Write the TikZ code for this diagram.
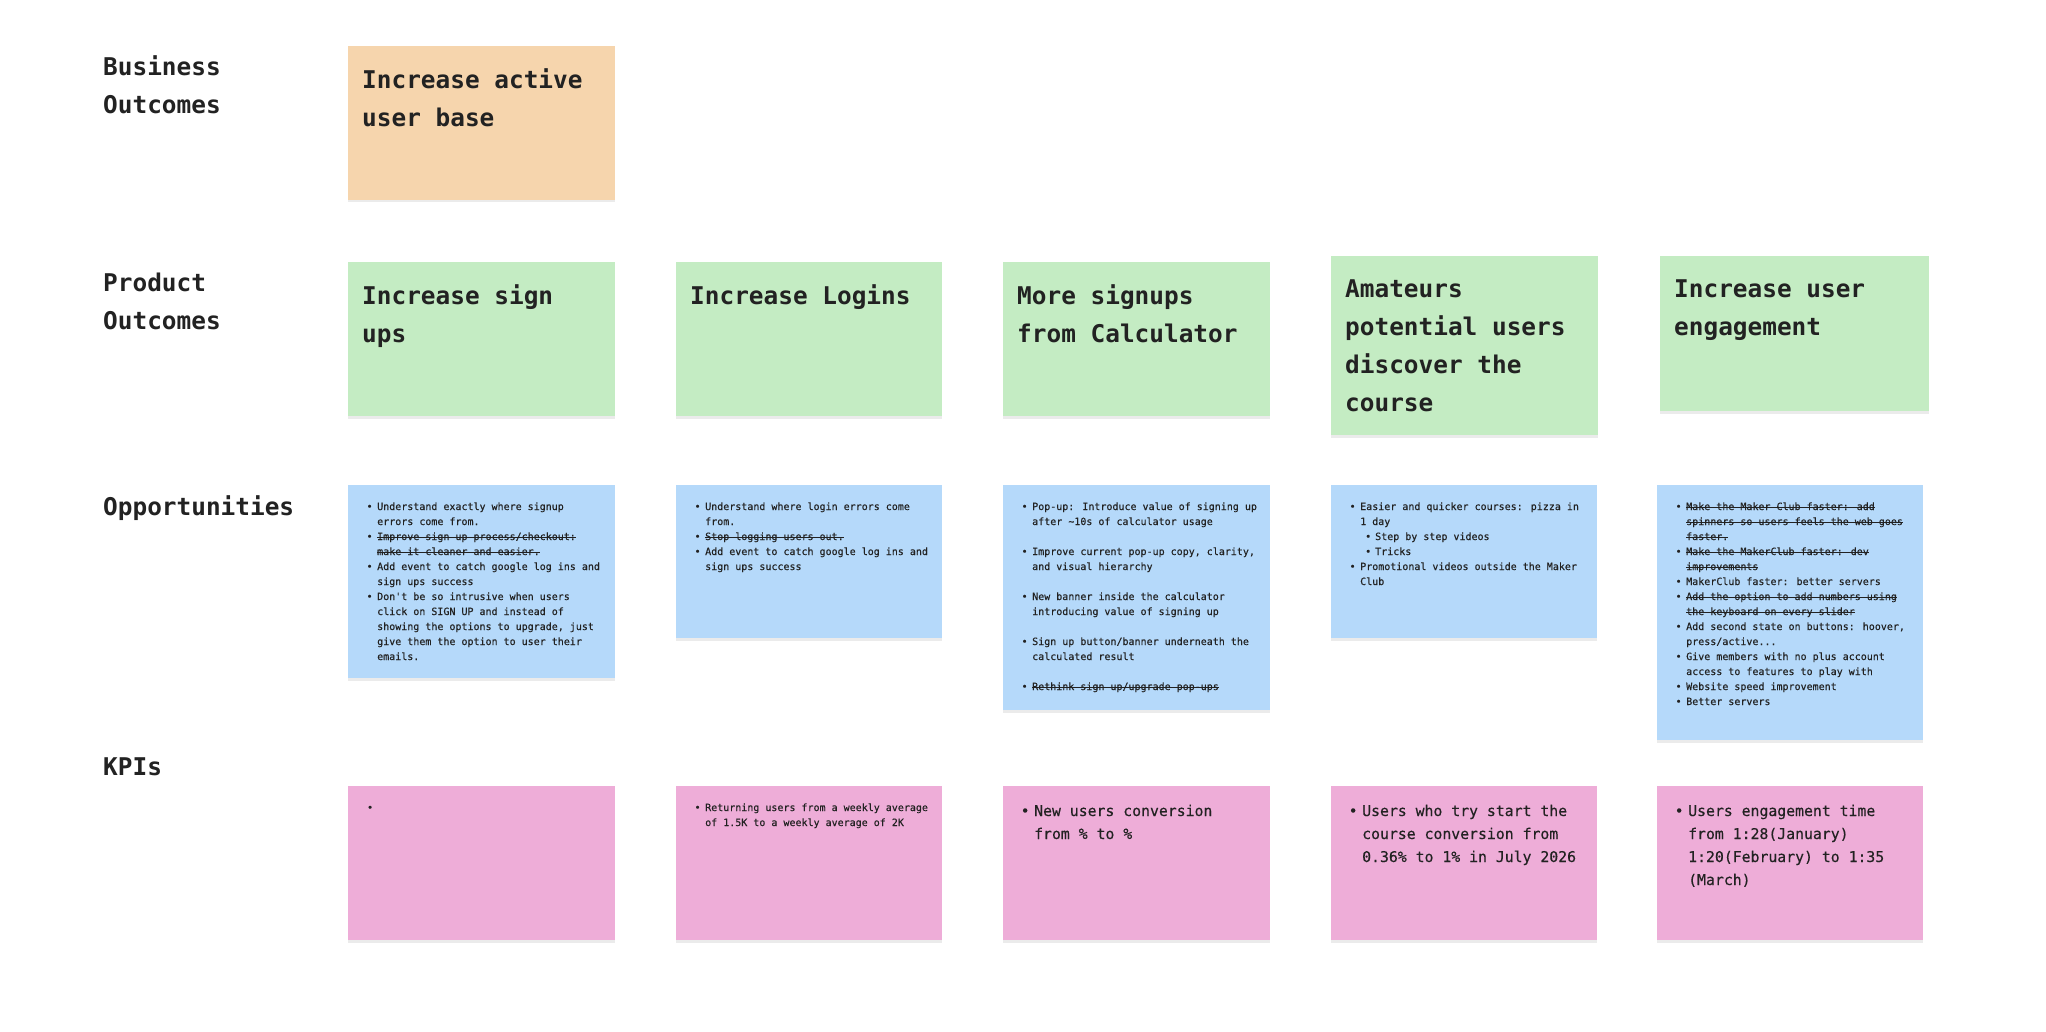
\documentclass[tikz,border=0pt]{standalone}
\usepackage{fontspec}
\setmonofont{DejaVu Sans Mono}
\newfontfamily\medmono[FakeBold=0.35]{DejaVu Sans Mono}
\usetikzlibrary{shadows}
\definecolor{ink}{HTML}{222222}
\definecolor{orangenote}{HTML}{F6D5AD}
\definecolor{greennote}{HTML}{C4ECC3}
\definecolor{bluenote}{HTML}{B5D9FA}
\definecolor{pinknote}{HTML}{EEADD8}
\newsavebox\strikebox
\newcommand\sout[1]{\sbox\strikebox{#1}\rlap{\rule[0.27em]{\wd\strikebox}{0.8pt}}\usebox\strikebox}
\newcommand\bigt{\ttfamily\bfseries\fontsize{24.4}{38}\selectfont}
\newcommand\smallt{\medmono\fontsize{10}{15}\selectfont}
\newcommand\midt{\medmono\fontsize{14.8}{23}\selectfont}
\newcommand\Lin[1]{\hbox{#1}}
\newcommand\Bul[1]{\hbox{\llap{\textbullet\kern4.6pt}#1}}
\newcommand\Sub[1]{\hbox{\kern15pt\llap{\textbullet\kern4pt}#1}}
\newcommand\Lines[1]{\vtop{#1}}
\tikzset{
  note/.style={rectangle, anchor=north west, inner sep=0pt, outer sep=0pt, draw=none,
    fill=#1, drop shadow={shadow xshift=0pt, shadow yshift=-2.5pt, opacity=.08, fill=black}},
  label/.style={anchor=base west, inner sep=0pt, text=ink, font=\bigt},
  title/.style={anchor=base west, inner sep=0pt, text=ink, font=\bigt},
  small/.style={anchor=base west, inner sep=0pt, text=ink, font=\smallt},
  mid/.style={anchor=base west, inner sep=0pt, text=ink, font=\midt},
}
\begin{document}
\begin{tikzpicture}[x=1pt,y=-1pt]
\fill[white] (0,0) rectangle (2046,1032);
\useasboundingbox (0,0) rectangle (2046,1032);

% row labels
\node[label] (l1) at (103,76) {\Lines{\Lin{Business}\Lin{Outcomes}}};
\node[label] (l2) at (103,292) {\Lines{\Lin{Product}\Lin{Outcomes}}};
\node[label] (l3) at (103,515) {\Lines{\Lin{Opportunities}}};
\node[label] (l4) at (103,775) {\Lines{\Lin{KPIs}}};

% business outcome
\node[note=orangenote, minimum width=267, minimum height=154] (b1) at (348,46) {};
\node[title] (tb1) at ([shift={(14,43)}]b1.north west) {\Lines{\Lin{Increase active}\Lin{user base}}};

% product outcomes
\node[note=greennote, minimum width=267, minimum height=154] (p1) at (348,262) {};
\node[note=greennote, minimum width=266, minimum height=154] (p2) at (676,262) {};
\node[note=greennote, minimum width=267, minimum height=154] (p3) at (1003,262) {};
\node[note=greennote, minimum width=267, minimum height=179] (p4) at (1331,256) {};
\node[note=greennote, minimum width=269, minimum height=155] (p5) at (1660,256) {};
\node[title] (tp1) at ([shift={(14,43)}]p1.north west) {\Lines{\Lin{Increase sign}\Lin{ups}}};
\node[title] (tp2) at ([shift={(14,43)}]p2.north west) {\Lines{\Lin{Increase Logins}}};
\node[title] (tp3) at ([shift={(14,43)}]p3.north west) {\Lines{\Lin{More signups}\Lin{from Calculator}}};
\node[title] (tp4) at ([shift={(14,42)}]p4.north west) {\Lines{\Lin{Amateurs}\Lin{potential users}\Lin{discover the}\Lin{course}}};
\node[title] (tp5) at ([shift={(14,42)}]p5.north west) {\Lines{\Lin{Increase user}\Lin{engagement}}};

% opportunities
\node[note=bluenote, minimum width=267, minimum height=193] (o1) at (348,485) {};
\node[note=bluenote, minimum width=266, minimum height=153] (o2) at (676,485) {};
\node[note=bluenote, minimum width=267, minimum height=225] (o3) at (1003,485) {};
\node[note=bluenote, minimum width=266, minimum height=153] (o4) at (1331,485) {};
\node[note=bluenote, minimum width=266, minimum height=255] (o5) at (1657,485) {};

\node[small] (to1) at ([shift={(29,25)}]o1.north west) {\Lines{%
\Bul{Understand exactly where signup}
\Lin{errors come from.}
\Bul{\sout{Improve sign up process/checkout:}}
\Lin{\sout{make it cleaner and easier.}}
\Bul{Add event to catch google log ins and}
\Lin{sign ups success}
\Bul{Don't be so intrusive when users}
\Lin{click on SIGN UP and instead of}
\Lin{showing the options to upgrade, just}
\Lin{give them the option to user their}
\Lin{emails.}}};

\node[small] (to2) at ([shift={(29,25)}]o2.north west) {\Lines{%
\Bul{Understand where login errors come}
\Lin{from.}
\Bul{\sout{Stop logging users out.}}
\Bul{Add event to catch google log ins and}
\Lin{sign ups success}}};

\node[small] (to3) at ([shift={(29,25)}]o3.north west) {\Lines{%
\Bul{Pop-up: Introduce value of signing up}
\Lin{after \textasciitilde10s of calculator usage}
\Lin{}
\Bul{Improve current pop-up copy, clarity,}
\Lin{and visual hierarchy}
\Lin{}
\Bul{New banner inside the calculator}
\Lin{introducing value of signing up}
\Lin{}
\Bul{Sign up button/banner underneath the}
\Lin{calculated result}
\Lin{}
\Bul{\sout{Rethink sign up/upgrade pop-ups}}}};

\node[small] (to4) at ([shift={(29,25)}]o4.north west) {\Lines{%
\Bul{Easier and quicker courses: pizza in}
\Lin{1 day}
\Sub{Step by step videos}
\Sub{Tricks}
\Bul{Promotional videos outside the Maker}
\Lin{Club}}};

\node[small] (to5) at ([shift={(29,25)}]o5.north west) {\Lines{%
\Bul{\sout{Make the Maker Club faster: add}}
\Lin{\sout{spinners so users feels the web goes}}
\Lin{\sout{faster.}}
\Bul{\sout{Make the MakerClub faster: dev}}
\Lin{\sout{improvements}}
\Bul{MakerClub faster: better servers}
\Bul{\sout{Add the option to add numbers using}}
\Lin{\sout{the keyboard on every slider}}
\Bul{Add second state on buttons: hoover,}
\Lin{press/active...}
\Bul{Give members with no plus account}
\Lin{access to features to play with}
\Bul{Website speed improvement}
\Bul{Better servers}}};

% KPIs
\node[note=pinknote, minimum width=267, minimum height=154] (k1) at (348,786) {};
\node[note=pinknote, minimum width=266, minimum height=154] (k2) at (676,786) {};
\node[note=pinknote, minimum width=267, minimum height=154] (k3) at (1003,786) {};
\node[note=pinknote, minimum width=266, minimum height=154] (k4) at (1331,786) {};
\node[note=pinknote, minimum width=266, minimum height=154] (k5) at (1657,786) {};

\node[small] (tk1) at ([shift={(29,25)}]k1.north west) {\Lines{\Bul{}}};
\node[small] (tk2) at ([shift={(29,25)}]k2.north west) {\Lines{%
\Bul{Returning users from a weekly average}
\Lin{of 1.5K to a weekly average of 2K}}};
\node[mid] (tk3) at ([shift={(31,30)}]k3.north west) {\Lines{%
\Bul{New users conversion}
\Lin{from \% to \%}}};
\node[mid] (tk4) at ([shift={(31,30)}]k4.north west) {\Lines{%
\Bul{Users who try start the}
\Lin{course conversion from}
\Lin{0.36\% to 1\% in July 2026}}};
\node[mid] (tk5) at ([shift={(31,30)}]k5.north west) {\Lines{%
\Bul{Users engagement time}
\Lin{from 1:28(January)}
\Lin{1:20(February) to 1:35}
\Lin{(March)}}};
\end{tikzpicture}
\end{document}
